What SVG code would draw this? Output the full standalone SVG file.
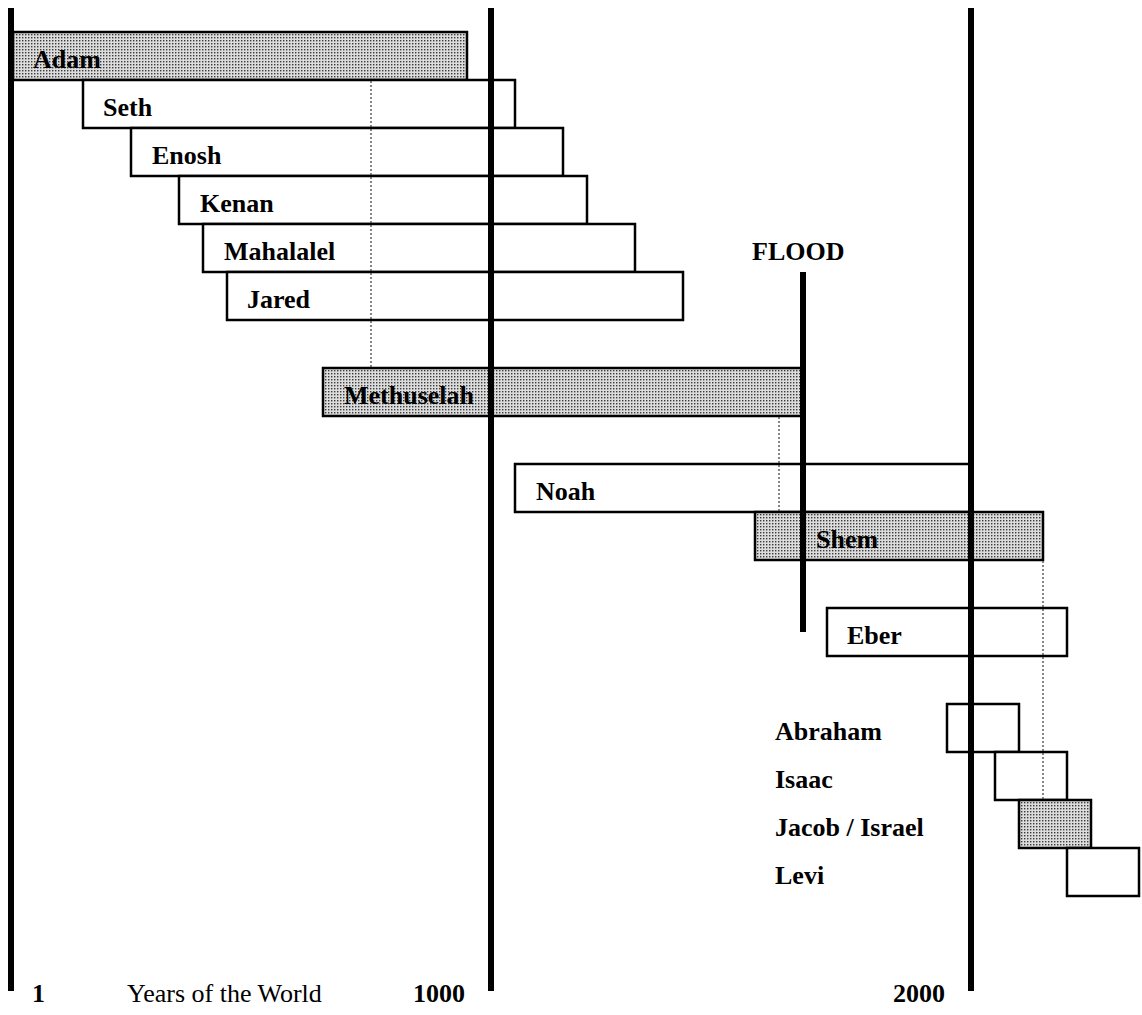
<svg xmlns="http://www.w3.org/2000/svg" width="1142" height="1015" viewBox="0 0 1142 1015">
<defs>
<pattern id="dots" width="3" height="3" patternUnits="userSpaceOnUse">
<rect width="3" height="3" fill="#dcdcdc"/>
<rect x="1" y="1" width="1.4" height="1.4" fill="#3a3a3a"/>
</pattern>
</defs>
<style>
.bar{fill:#fff;stroke:#000;stroke-width:2.5}
.shade{fill:url(#dots);stroke:#000;stroke-width:2.5}
.lbl{font-family:"Liberation Serif","Times New Roman",serif;font-weight:bold;font-size:26px;fill:#000}
.reg{font-family:"Liberation Serif","Times New Roman",serif;font-size:26px;fill:#000}
.thick{stroke:#000;stroke-width:6;fill:none}
.dot{stroke:#444;stroke-width:1.3;stroke-dasharray:2 2;fill:none}
</style>
<rect width="1142" height="1015" fill="#fff"/>
<g id="adam"><rect class="shade" x="13" y="32" width="454" height="48"/><text class="lbl" x="33" y="68">Adam</text></g>
<g id="seth"><rect class="bar" x="83" y="80" width="432" height="48"/><text class="lbl" x="103" y="116">Seth</text></g>
<g id="enosh"><rect class="bar" x="131" y="128" width="432" height="48"/><text class="lbl" x="152" y="164">Enosh</text></g>
<g id="kenan"><rect class="bar" x="179" y="176" width="408" height="48"/><text class="lbl" x="200" y="212">Kenan</text></g>
<g id="mahalalel"><rect class="bar" x="203" y="224" width="432" height="48"/><text class="lbl" x="224" y="260">Mahalalel</text></g>
<g id="jared"><rect class="bar" x="227" y="272" width="456" height="48"/><text class="lbl" x="247" y="308">Jared</text></g>
<g id="methuselah"><rect class="shade" x="323" y="368" width="479" height="48"/><text class="lbl" x="344" y="404">Methuselah</text></g>
<g id="noah"><rect class="bar" x="515" y="464" width="455" height="48"/><text class="lbl" x="536" y="500">Noah</text></g>
<g id="shem"><rect class="shade" x="755" y="512" width="288" height="48"/><text class="lbl" x="816" y="548">Shem</text></g>
<g id="eber"><rect class="bar" x="827" y="608" width="240" height="48"/><text class="lbl" x="847" y="644">Eber</text></g>
<g id="abraham"><rect class="bar" x="947" y="704" width="72" height="48"/><text class="lbl" x="775" y="740">Abraham</text></g>
<g id="isaac"><rect class="bar" x="995" y="752" width="72" height="48"/><text class="lbl" x="775" y="788">Isaac</text></g>
<g id="jacob"><rect class="shade" x="1019" y="800" width="72" height="48"/><text class="lbl" x="775" y="836">Jacob / Israel</text></g>
<g id="levi"><rect class="bar" x="1067" y="848" width="72" height="48"/><text class="lbl" x="775" y="884">Levi</text></g>
<g id="connectors">
<line class="dot" x1="371" y1="81" x2="371" y2="367"/>
<line class="dot" x1="779" y1="417" x2="779" y2="511"/>
<line class="dot" x1="1043" y1="561" x2="1043" y2="799"/>
<line class="thick" x1="11" y1="8" x2="11" y2="991"/>
<line class="thick" x1="491" y1="8" x2="491" y2="991"/>
<line class="thick" x1="971" y1="8" x2="971" y2="991"/>
<line class="thick" x1="803" y1="272" x2="803" y2="632"/>
</g>
<g id="labels">
<text class="lbl" x="752" y="260">FLOOD</text>
<text class="lbl" x="32" y="1002">1</text>
<text class="reg" x="127" y="1002">Years of the World</text>
<text class="lbl" x="413" y="1002">1000</text>
<text class="lbl" x="893" y="1002">2000</text>
</g>
</svg>
